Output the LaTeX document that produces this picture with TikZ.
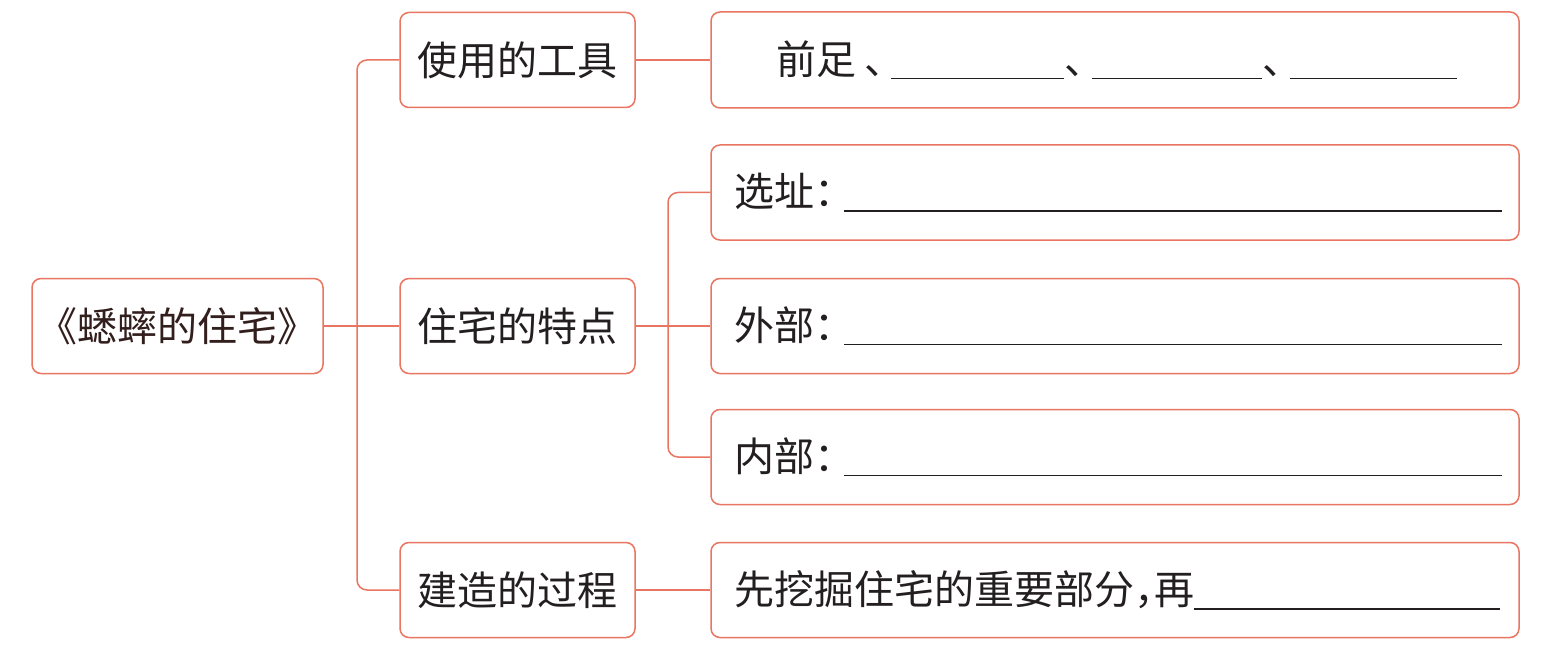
\documentclass[tikz,border=0pt]{standalone}
\usepackage{fontspec}
\newfontfamily\cjk{Noto Sans CJK SC}
\definecolor{salmon}{RGB}{233,118,98}
\definecolor{inkc}{RGB}{35,31,32}
\definecolor{rootink}{RGB}{50,30,28}
\newcommand\blankline{\leaders\hrule height -3.6pt depth 5pt\hskip 0pt plus 1fill\relax}
\newcommand\gap[1]{\rule[-5pt]{#1}{1.4pt}}
\begin{document}
\begin{tikzpicture}[x=1pt,y=-1pt,
  box/.style={draw=salmon, line width=1.5pt, rounded corners=9pt, fill=white,
    inner sep=0pt, text=inkc, font=\cjk\fontsize{40}{48}\selectfont},
  lone/.style={box, minimum width=235pt, minimum height=95pt},
  ltwo/.style={box, minimum width=808pt, minimum height=95pt},
  conn/.style={draw=salmon, line width=1.5pt, rounded corners=10pt}]
\useasboundingbox[fill=white] (0,0) rectangle (1547,655);
% root
\node[box, minimum width=291pt, minimum height=95pt, text=rootink] (root) at (177.5,326) {《蟋蟀的住宅》};
% level 1
\node[lone] (tool)  at (517.5,60)  {使用的工具};
\node[lone] (feat)  at (517.5,326) {住宅的特点};
\node[lone] (build) at (517.5,590) {建造的过程};
% level 2
\node[ltwo, minimum height=96pt] (feet) at (1115,60) {\hbox to 808pt{\hspace{65pt}前足\hspace{8pt}、\hspace{-13pt}\gap{173pt}、\hspace{-12pt}\gap{170pt}、\hspace{-12pt}\gap{167pt}\hfil}};
\node[ltwo] (site) at (1115,192.5) {\hbox to 808pt{\hspace{23pt}选址：\hspace{-10pt}\blankline\hspace{17pt}}};
\node[ltwo] (outer) at (1115,326) {\hbox to 808pt{\hspace{23pt}外部：\hspace{-10pt}\blankline\hspace{17pt}}};
\node[ltwo] (inner) at (1115,457) {\hbox to 808pt{\hspace{23pt}内部：\hspace{-10pt}\blankline\hspace{17pt}}};
\node[ltwo] (proc) at (1115,590) {\hbox to 808pt{\hspace{23pt}先挖掘住宅的重要部分，\hspace{-20pt}再\blankline\hspace{19pt}}};
% connectors
\coordinate (trunk) at (357,326);
\coordinate (trunkb) at (668,326);
\draw[conn] (root.east) -- (feat.west);
\draw[conn] (tool.west) -| (trunk) |- (build.west);
\draw[conn] (tool.east) -- (feet.west);
\draw[conn] (feat.east) -- (outer.west);
\draw[conn] (site.west) -| (trunkb) |- (inner.west);
\draw[conn] (build.east) -- (proc.west);
\end{tikzpicture}
\end{document}
